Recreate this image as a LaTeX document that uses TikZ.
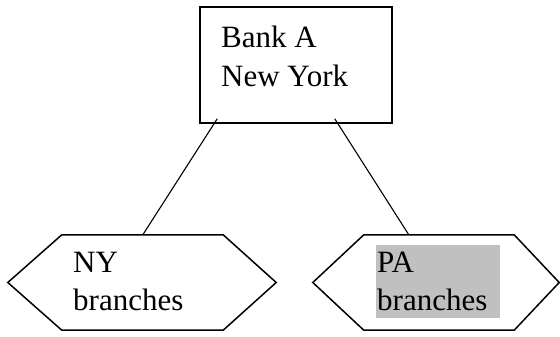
\documentclass[tikz,border=0pt]{standalone}
\usepackage{fontspec}
\setmainfont{Liberation Serif}
\usepackage{xcolor}
\definecolor{highlight}{HTML}{C0C0C0}
\tikzset{
    bank-box/.style = {draw, line width=1.5pt, rectangle, minimum width=192pt, minimum height=116pt, inner sep=0pt},
    bank-text/.style = {align=left, inner sep=0pt, font=\fontsize{31pt}{39pt}\selectfont},
    hex-core/.style = {rectangle, minimum height=95pt, inner sep=0pt},
    hex-line/.style = {line width=1.5pt, line join=miter},
    branch-text/.style = {align=left, text width=122pt, inner xsep=1pt, inner ysep=7pt, font=\fontsize{31pt}{38pt}\selectfont},
    tie-line/.style = {line width=1.1pt},
}

\begin{document}
\begin{tikzpicture}[x=1pt, y=-1pt]
\useasboundingbox (0,0) rectangle (560,337);
\node [bank-box] (bank) at (296,65) {};
\node [bank-text, anchor=north west] (banktext) at (221,26) {Bank A\\New York};

% branch hexagons
\node [hex-core, minimum width=161pt] (ny) at (142.5,282.5) {};
\draw [hex-line] (ny.north west) -- (ny.north east) -- ([xshift=53pt]ny.east) -- (ny.south east) -- (ny.south west) -- ([xshift=-54pt]ny.west) -- cycle;
\node [branch-text, anchor=north west] (nytext) at (72,245) {NY\\branches};

\node [hex-core, minimum width=150pt] (pa) at (439,282.5) {};
\draw [hex-line] (pa.north west) -- (pa.north east) -- ([xshift=45pt]pa.east) -- (pa.south east) -- (pa.south west) -- ([xshift=-51pt]pa.west) -- cycle;
\node [branch-text, fill=highlight, anchor=north west] (patext) at (376,245) {PA\\branches};

\draw [tie-line] ([xshift=18pt, yshift=5pt]bank.south west) -- ([xshift=81pt]ny.north west);
\draw [tie-line] ([xshift=-58pt, yshift=5pt]bank.south east) -- ([xshift=45pt]pa.north west);
\end{tikzpicture}
\end{document}
